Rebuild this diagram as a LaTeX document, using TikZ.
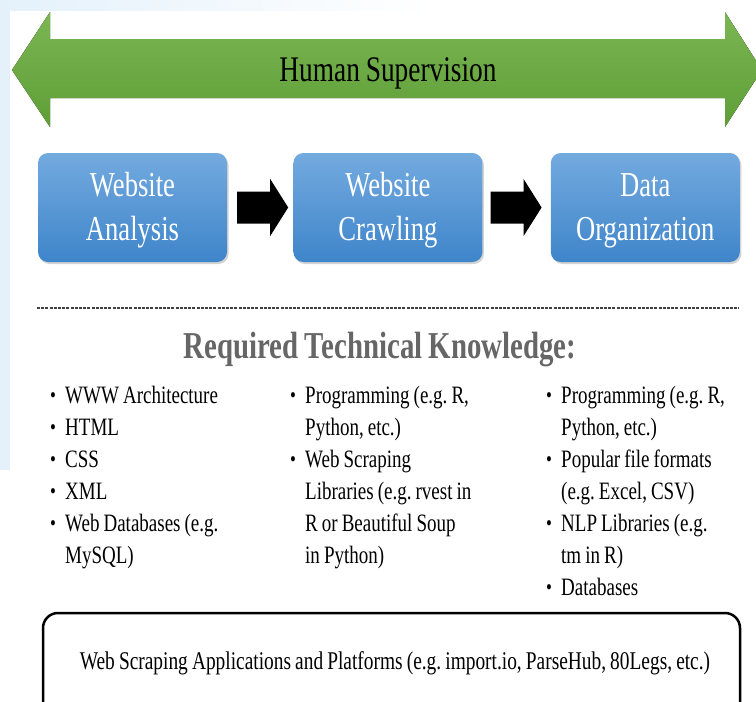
\documentclass[tikz,border=0pt]{standalone}
\usepackage{fontspec}
\setmainfont{Liberation Serif}[FakeStretch=0.76, WordSpace=0.85]
\usetikzlibrary{positioning,shadows}
\definecolor{supgreentop}{HTML}{7BB653}
\definecolor{supgreenbot}{HTML}{5E9E37}
\definecolor{boxbluetop}{HTML}{73AADF}
\definecolor{boxbluebot}{HTML}{3F85CA}
\definecolor{headgray}{HTML}{666666}
\definecolor{edgeblue}{HTML}{E4F1FB}
\newcommand{\bt}{\makebox[15pt][l]{\fontsize{22}{22}\selectfont\raisebox{1pt}{\textbullet}}}
\newcommand{\nb}{\hspace*{15pt}}
\frenchspacing
\begin{document}
\begin{tikzpicture}[x=1pt,y=-1pt,
  stepblock/.style={rectangle, rounded corners=10pt, minimum width=189pt, minimum height=109pt,
    top color=boxbluetop, bottom color=boxbluebot, text=white, align=center,
    font=\fontsize{35}{44}\selectfont,
    drop shadow={opacity=0.35, shadow xshift=1.5pt, shadow yshift=-2pt}},
  blockarrow/.style={fill=black},
  itemcol/.style={anchor=north west, inner sep=0pt, align=left, font=\fontsize{25}{32}\selectfont}]
\clip (0,0) rectangle (756,702); % 页面范围
% 左上角浅色边
\fill[edgeblue] (0,0) rectangle (10,470);
\fill[left color=edgeblue, right color=white] (0,0) rectangle (430,10);
% 绿色双向箭头 Human Supervision
\fill[top color=supgreentop, bottom color=supgreenbot] (12,70) -- (50,12) -- (50,39) -- (725,39) -- (725,12)
  -- (762,70) -- (725,127) -- (725,98) -- (50,98) -- (50,127) -- cycle;
\node (hs) at (388,73) {\fontsize{36}{36}\selectfont Human Supervision};
% 三个步骤
\node[stepblock] (wa) at (132.5,207.5) {\rule{0pt}{30pt}Website\\Analysis};
\node[stepblock, right=66pt of wa] (wc) {\rule{0pt}{30pt}Website\\Crawling};
\node[stepblock, right=68pt of wc] (do) {\rule{0pt}{30pt}Data\\Organization};
% 黑色箭头
\fill[blockarrow, shift={(wa.east)}] (10,-16) -- (43,-16) -- (43,-28.5) -- (61,0) -- (43,28.5) -- (43,16) -- (10,16) -- cycle;
\fill[blockarrow, shift={(wc.east)}] (8,-16) -- (41,-16) -- (41,-28.5) -- (59,0) -- (41,28.5) -- (41,16) -- (8,16) -- cycle;
% 虚线
\draw[black!75, line width=2.2pt, dash pattern=on 3pt off 1.2pt] (37,308) -- (739,308);
% 标题
\node[text=headgray, font=\fontsize{38}{38}\selectfont\bfseries] (rtk) at (380,350) {Required Technical Knowledge:};
% 三列要点
\node[itemcol] (colwa) at (50,386) {\bt WWW Architecture\\ \bt HTML\\ \bt CSS\\ \bt XML\\ \bt Web Databases (e.g.\\ \nb MySQL)};
\node[itemcol] (colwc) at (290,386) {\bt Programming (e.g. R,\\ \nb Python, etc.)\\ \bt Web Scraping\\ \nb Libraries (e.g. rvest in\\ \nb R or Beautiful Soup\\ \nb in Python)};
\node[itemcol] (coldo) at (546,386) {\bt Programming (e.g. R,\\ \nb Python, etc.)\\ \bt Popular file formats\\ \nb (e.g. Excel, CSV)\\ \bt NLP Libraries (e.g.\\ \nb tm in R)\\ \bt Databases};
% 底部方框
\draw[line width=2.5pt, rounded corners=15pt] (43,613) rectangle (740,720);
\node (wsap) at (395,663) {\fontsize{25.5}{26}\selectfont Web Scraping Applications and Platforms (e.g. import.io, ParseHub, 80Legs, etc.)};
\end{tikzpicture}
\end{document}
